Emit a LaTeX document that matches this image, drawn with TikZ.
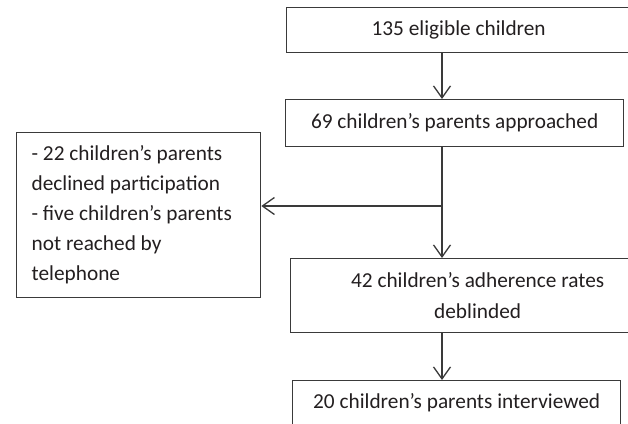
\documentclass[tikz,border=0pt]{standalone}
\usepackage{fontspec}
\setmainfont{Carlito}
\usetikzlibrary{arrows.meta,calc}
\definecolor{lineC}{HTML}{3A3A3A}
\definecolor{textC}{HTML}{231F20}
\tikzset{
  box/.style={draw=lineC, line width=1.3pt, text=textC, inner sep=0pt, anchor=north west,
    font=\fontsize{21.3pt}{30pt}\selectfont, align=center},
  arr/.style={draw=lineC, line width=1.3pt, -{Straight Barb[length=12pt,width=17pt,line width=1.3pt]}},
  ln/.style={draw=lineC, line width=1.3pt}
}
\begin{document}
\begin{tikzpicture}[x=1pt,y=-1pt]
\useasboundingbox (0,0) rectangle (628,423);
\clip (0,0) rectangle (628,423);
\node[box, minimum width=344pt, minimum height=45pt] (b1) at (286,7) {135 eligible children};
\node[box, minimum width=338pt, minimum height=47pt] (b2) at (285,99) {69 children’s parents approached};
\node[box, minimum height=165pt, text width=214pt, inner xsep=15pt, align=flush left] (ex) at (16,132)
  {- 22 children’s parents\\declined participation\\- five children’s parents\\not reached by\\telephone};
\node[box, minimum width=374pt, minimum height=74pt, font=\fontsize{21.3pt}{31pt}\selectfont] (b3) at (290,258)
  {42 children’s adherence rates\\deblinded};
\node[box, minimum width=328pt, minimum height=44pt] (b4) at (292,380) {20 children’s parents interviewed};
\coordinate (sp) at (442,0);
\coordinate (br) at (442,206);
\draw[arr] (b1.south -| sp) -- (b2.north -| sp);
\draw[arr] (b2.south -| sp) -- (b3.north -| sp);
\draw[arr] (br) -- (ex.east |- br);
\draw[arr] (b3.south -| sp) -- (b4.north -| sp);
\end{tikzpicture}
\end{document}
